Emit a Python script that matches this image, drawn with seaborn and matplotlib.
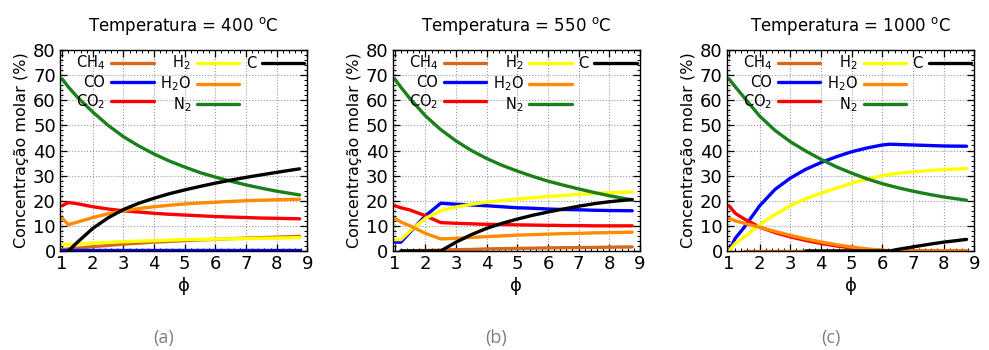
import numpy as np
import pandas as pd
import matplotlib
matplotlib.use("Agg")
import matplotlib.pyplot as plt
from matplotlib.lines import Line2D
from matplotlib.ticker import AutoMinorLocator, MultipleLocator
import seaborn as sns

nan = np.nan
# razao de equivalencia
phi = [1, 1.2, 1.5, 2, 2.5, 3, 3.5, 4, 4.5, 5, 5.5, 6, 6.25, 6.5, 7, 7.5, 8, 8.75]

species = ["CH4", "CO", "CO2", "H2", "H2O", "N2", "C"]
labels = ["CH$_4$", "CO", "CO$_2$", "H$_2$", "H$_2$O", "N$_2$", "C"]
colors = ["#d2691e", "#0000ff", "#ff0000", "#ffff00", "#ff8c00", "#1a801a", "#000000"]

temps = ["400", "550", "1000"]
letters = ["(a)", "(b)", "(c)"]

# T = 400 C
ch4_400 = [0.5, 0.8, 1.1, 1.7, 2.2, 2.7, 3.1, 3.5, 3.8, 4.1, 4.4, 4.6, 4.75, 4.9, 5.1, 5.3, 5.5, 5.8]
co_400 = [0.2] * 18
co2_400 = [18, 19.3, 18.8, 17.6, 16.7, 16, 15.5, 15, 14.6, 14.3, 14, 13.7, 13.6, 13.5, 13.3, 13.1, 13, 12.8]
h2_400 = [2.5, 2.6, 2.8, 3.1, 3.4, 3.7, 3.9, 4.1, 4.3, 4.5, 4.6, 4.7, 4.8, 4.85, 4.95, 5.05, 5.15, 5.3]
h2o_400 = [13, 10.5, 11.5, 13.3, 14.8, 16, 16.9, 17.6, 18.2, 18.7, 19.1, 19.4, 19.6, 19.7, 20, 20.2, 20.4, 20.6]
n2_400 = [68.5, 65.3, 61.2, 55.3, 50, 45.5, 41.8, 38.6, 35.8, 33.4, 31.2, 29.4, 28.6, 27.8, 26.3, 25, 23.8, 22.3]
c_400 = [nan, 0, 3.5, 9, 13.2, 16.5, 19, 21, 22.8, 24.3, 25.7, 27, 27.6, 28.2, 29.3, 30.3, 31.3, 32.7]

# T = 550 C
ch4_550 = [nan, 0.1, 0.1, 0.2, 0.3, 0.5, 0.6, 0.8, 0.9, 1, 1.1, 1.2, 1.25, 1.3, 1.35, 1.4, 1.5, 1.6]
co_550 = [3.5, 3.5, 7.5, 14, 19, 18.6, 18.3, 18, 17.6, 17.2, 17, 16.7, 16.6, 16.5, 16.4, 16.2, 16.1, 16]
co2_550 = [18, 17.2, 16.3, 14, 11.3, 11, 10.8, 10.6, 10.5, 10.4, 10.3, 10.2, 10.2, 10.1, 10.1, 10, 10, 10]
h2_550 = [4.5, 4.5, 8, 13, 16, 17.5, 18.6, 19.4, 20.1, 20.7, 21.2, 21.7, 21.9, 22.1, 22.5, 22.9, 23.2, 23.5]
h2o_550 = [13, 11.5, 10, 7, 4.8, 5, 5.4, 5.7, 6, 6.3, 6.5, 6.7, 6.8, 6.9, 7, 7.2, 7.3, 7.5]
n2_550 = [68.5, 65.2, 60.6, 53.8, 48.3, 43.8, 40, 36.8, 34.1, 31.8, 29.7, 27.8, 27, 26.2, 24.7, 23.3, 22, 20.3]
c_550 = [nan, 0, 0, 0, 0, 3.5, 6.5, 9, 11, 12.7, 14.2, 15.5, 16.1, 16.7, 17.8, 18.8, 19.6, 20.5]

# T = 1000 C
ch4_1000 = [nan, nan, 0, 0, 0, 0, 0, 0, 0, 0, 0, 0, 0, 0, 0, 0, 0, 0]
co_1000 = [0, 5, 9.5, 18, 24.5, 29, 32.5, 35.2, 37.5, 39.5, 41, 42.2, 42.5, 42.4, 42.2, 42, 41.8, 41.7]
co2_1000 = [18, 15, 12.7, 9.5, 7.3, 5.6, 4.2, 3, 2, 1.2, 0.6, 0.2, 0, 0, 0, 0, 0, 0]
h2_1000 = [0, 3, 5.5, 10.5, 14.5, 18, 20.8, 23, 25, 27, 28.6, 30, 30.5, 30.9, 31.5, 32, 32.4, 32.8]
h2o_1000 = [13, 12, 11, 9.4, 7.8, 6.2, 4.8, 3.6, 2.5, 1.6, 0.8, 0.3, 0.1, 0, 0, 0, 0, 0]
n2_1000 = [68.5, 65.4, 61, 53.7, 48, 43.5, 39.8, 36.5, 33.5, 31, 28.7, 26.8, 26, 25.2, 23.8, 22.6, 21.5, 20.2]
c_1000 = [nan, nan, nan, nan, nan, nan, 0, 0, 0, 0, 0, 0, 0, 0.6, 1.6, 2.6, 3.5, 4.6]

panels = [
    [ch4_400, co_400, co2_400, h2_400, h2o_400, n2_400, c_400],
    [ch4_550, co_550, co2_550, h2_550, h2o_550, n2_550, c_550],
    [ch4_1000, co_1000, co2_1000, h2_1000, h2o_1000, n2_1000, c_1000],
]

sns.set_style("ticks")
plt.rcParams["font.family"] = ["DejaVu Sans"]
plt.rcParams["mathtext.fontset"] = "dejavusans"
for k in ["text.color", "axes.labelcolor", "xtick.color", "ytick.color"]:
    plt.rcParams[k] = "black"

fig = plt.figure(figsize=(9.89, 3.5), dpi=100)
lefts = [0.0607, 0.397, 0.735]
palette = dict(zip(species, colors))

for i, series in enumerate(panels):
    ax = fig.add_axes([lefts[i], 0.283, 0.25, 0.574])
    rows = []
    for sp, vals in zip(species, series):
        for x, y in zip(phi, vals):
            rows.append({"phi": x, "conc": y, "sp": sp})
    df = pd.DataFrame(rows)
    for sp in species:
        d = df[df["sp"] == sp].dropna()
        sns.lineplot(data=d, x="phi", y="conc", color=palette[sp], lw=2.4,
                     ax=ax, legend=False, sort=False)

    ax.set_xlim(0.93, 9)
    ax.set_ylim(0, 80)
    ax.xaxis.set_major_locator(MultipleLocator(1))
    ax.yaxis.set_major_locator(MultipleLocator(10))
    ax.xaxis.set_minor_locator(AutoMinorLocator(5))
    ax.yaxis.set_minor_locator(AutoMinorLocator(5))
    ax.tick_params(which="both", direction="in", top=True, right=True, labelsize=13, pad=3)
    ax.tick_params(which="major", length=5, width=0.9)
    ax.tick_params(which="minor", length=2.5, width=0.7)
    ax.grid(True, which="major", ls=":", color="#999999", lw=0.8)
    for s in ax.spines.values():
        s.set_linewidth(1.0)
        s.set_color("black")
    ax.set_xlabel("ϕ", fontsize=13, labelpad=3)
    ax.set_ylabel("Concentração molar (%)", fontsize=11.5, labelpad=3)
    ax.set_title("Temperatura = " + temps[i] + " $^{\\mathrm{o}}$C", fontsize=12, pad=14)

    handles = [Line2D([], [], color=c, lw=2.4) for c in colors]
    handles += [Line2D([], [], color="none")] * 2
    leg = ax.legend(handles, labels + ["", ""], ncol=3, markerfirst=False, frameon=False,
                    loc="upper left", bbox_to_anchor=(0.03, 1.025), fontsize=10.5,
                    handlelength=2.9, handletextpad=0.4, columnspacing=0.45,
                    labelspacing=0.15, borderaxespad=0.2)

    fig.text(lefts[i] + 0.105, 0.034, letters[i], ha="center", va="center",
             fontsize=13, color="#7f7f7f", family=["Open Sans", "DejaVu Sans"])

plt.savefig("out.png", dpi=100)
